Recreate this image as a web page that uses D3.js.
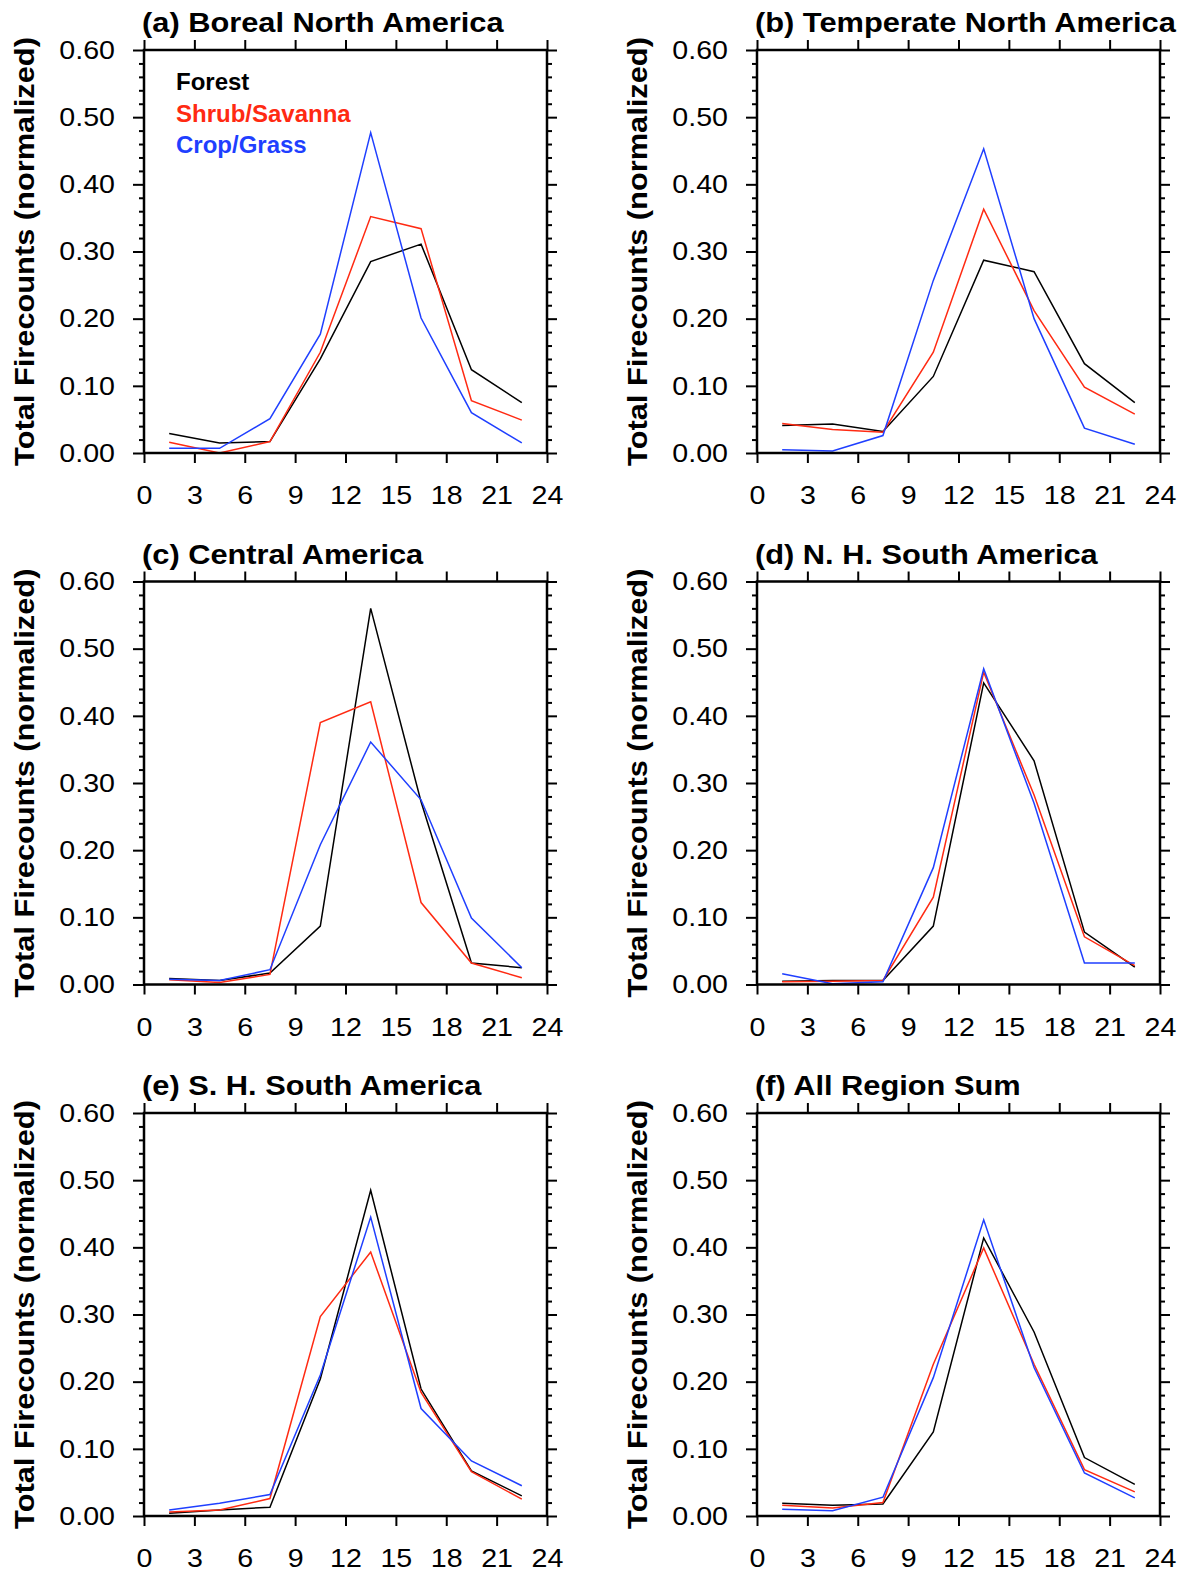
<!DOCTYPE html>
<html>
<head>
<meta charset="utf-8">
<script src="https://cdn.jsdelivr.net/npm/d3@7"></script>
<style>
  body { margin: 0; background: #fff; }
  svg text { font-family: "Liberation Sans", Arial, Helvetica, sans-serif; }
</style>
</head>
<body>
<svg id="chart"></svg>
<script>
const width = 1190;
const height = 1574;

// hour-bin centres (local time)
const hours = [1.5, 4.5, 7.5, 10.5, 13.5, 16.5, 19.5, 22.5];
const xTicks = [0, 3, 6, 9, 12, 15, 18, 21, 24];
const yTicks = [0, 0.1, 0.2, 0.3, 0.4, 0.5, 0.6];

const titles = [
  '(a) Boreal North America',
  '(b) Temperate North America',
  '(c) Central America',
  '(d) N. H. South America',
  '(e) S. H. South America',
  '(f) All Region Sum'
];
const seriesNames = ['Forest', 'Shrub/Savanna', 'Crop/Grass'];

const borealForest = [0.029, 0.015, 0.017, 0.140, 0.285, 0.311, 0.124, 0.075];
const borealShrub  = [0.016, 0.000, 0.017, 0.150, 0.352, 0.334, 0.078, 0.049];
const borealCrop   = [0.007, 0.007, 0.051, 0.177, 0.477, 0.201, 0.060, 0.015];

const temperateForest = [0.041, 0.043, 0.032, 0.114, 0.287, 0.270, 0.133, 0.075];
const temperateShrub  = [0.044, 0.035, 0.031, 0.150, 0.363, 0.212, 0.098, 0.058];
const temperateCrop   = [0.005, 0.003, 0.026, 0.257, 0.453, 0.200, 0.037, 0.013];

const centralForest = [0.009, 0.006, 0.017, 0.087, 0.560, 0.272, 0.032, 0.025];
const centralShrub  = [0.007, 0.003, 0.015, 0.390, 0.421, 0.122, 0.032, 0.010];
const centralCrop   = [0.008, 0.006, 0.022, 0.208, 0.361, 0.275, 0.099, 0.025];

const nhsaForest = [0.005, 0.006, 0.006, 0.087, 0.449, 0.333, 0.078, 0.026];
const nhsaShrub  = [0.004, 0.005, 0.006, 0.130, 0.465, 0.282, 0.071, 0.028];
const nhsaCrop   = [0.016, 0.001, 0.004, 0.174, 0.470, 0.270, 0.032, 0.032];

const shsaForest = [0.004, 0.009, 0.013, 0.204, 0.485, 0.189, 0.067, 0.030];
const shsaShrub  = [0.006, 0.009, 0.026, 0.297, 0.393, 0.184, 0.066, 0.025];
const shsaCrop   = [0.009, 0.019, 0.032, 0.210, 0.445, 0.160, 0.082, 0.045];

const allForest = [0.019, 0.016, 0.018, 0.125, 0.414, 0.274, 0.087, 0.047];
const allShrub  = [0.016, 0.012, 0.020, 0.226, 0.399, 0.226, 0.069, 0.036];
const allCrop   = [0.010, 0.008, 0.028, 0.206, 0.441, 0.221, 0.064, 0.027];

const panelData = [
  [borealForest, borealShrub, borealCrop],
  [temperateForest, temperateShrub, temperateCrop],
  [centralForest, centralShrub, centralCrop],
  [nhsaForest, nhsaShrub, nhsaCrop],
  [shsaForest, shsaShrub, shsaCrop],
  [allForest, allShrub, allCrop]
];

const colors = ['#000000', '#ff2a12', '#1f3fff'];

const plotW = 403;
const plotH = 403;
const colX = [144, 757];
const rowY = [50, 581.5, 1113];
const stretch = 1.1; // NCL's helvetica is a little wider than Liberation Sans

const svg = d3.select('#chart')
  .attr('width', width)
  .attr('height', height);

svg.append('rect').attr('width', width).attr('height', height).attr('fill', '#fff');

const minorY = d3.range(0, 0.601, 0.02).filter(v => Math.abs(v * 10 - Math.round(v * 10)) > 1e-6);

titles.forEach((title, i) => {
  const left = colX[i % 2];
  const top = rowY[Math.floor(i / 2)];
  const g = svg.append('g').attr('transform', `translate(${left},${top})`);

  const x = d3.scaleLinear().domain([0, 24]).range([0, plotW]);
  const y = d3.scaleLinear().domain([0, 0.6]).range([plotH, 0]);

  // axes (ticks point outward on every side, like NCL)
  const xBottom = g.append('g').attr('transform', `translate(0,${plotH})`)
    .call(d3.axisBottom(x).tickValues(xTicks).tickSize(10).tickFormat(d3.format('d')));
  g.append('g')
    .call(d3.axisTop(x).tickValues(xTicks).tickSize(10).tickFormat(''));
  const yLeft = g.append('g')
    .call(d3.axisLeft(y).tickValues(yTicks).tickSize(11).tickFormat(d3.format('.2f')));
  g.append('g')
    .call(d3.axisLeft(y).tickValues(minorY).tickSize(5).tickFormat(''));
  g.append('g').attr('transform', `translate(${plotW},0)`)
    .call(d3.axisRight(y).tickValues(yTicks).tickSize(10).tickFormat(''));
  g.append('g').attr('transform', `translate(${plotW},0)`)
    .call(d3.axisRight(y).tickValues(minorY).tickSize(5).tickFormat(''));

  g.selectAll('.domain').remove();
  g.selectAll('.tick line').attr('stroke', '#000').attr('stroke-width', 2);
  g.selectAll('.tick text').attr('fill', '#000').style('font-size', '26px');

  xBottom.selectAll('.tick text')
    .attr('y', 0)
    .attr('dy', '0.36em')
    .attr('transform', `translate(0,42) scale(${stretch},1)`);
  yLeft.selectAll('.tick text')
    .attr('x', 0)
    .attr('transform', `translate(-29,0) scale(${stretch},1)`);

  // series lines
  const line = d3.line()
    .x((d, k) => x(hours[k]))
    .y(d => y(d));

  panelData[i].forEach((vals, s) => {
    g.append('path')
      .datum(vals)
      .attr('fill', 'none')
      .attr('stroke', colors[s])
      .attr('stroke-width', 1.5)
      .attr('d', line);
  });

  // frame
  g.append('rect')
    .attr('width', plotW)
    .attr('height', plotH)
    .attr('fill', 'none')
    .attr('stroke', '#000')
    .attr('stroke-width', 2.5);

  // title
  g.append('text')
    .attr('transform', `translate(-2,-18) scale(${stretch},1)`)
    .style('font-size', '28px')
    .style('font-weight', 'bold')
    .text(title);

  // y axis title
  g.append('text')
    .attr('transform', `translate(-110,${plotH / 2}) rotate(-90) scale(${stretch},1)`)
    .attr('text-anchor', 'middle')
    .style('font-size', '28px')
    .style('font-weight', 'bold')
    .text('Total Firecounts (normalized)');

  // legend only in first panel
  if (i === 0) {
    seriesNames.forEach((name, s) => {
      g.append('text')
        .attr('x', 32)
        .attr('y', 40 + s * 31.5)
        .attr('fill', colors[s])
        .style('font-size', '24px')
        .style('font-weight', 'bold')
        .text(name);
    });
  }
});
</script>
</body>
</html>
